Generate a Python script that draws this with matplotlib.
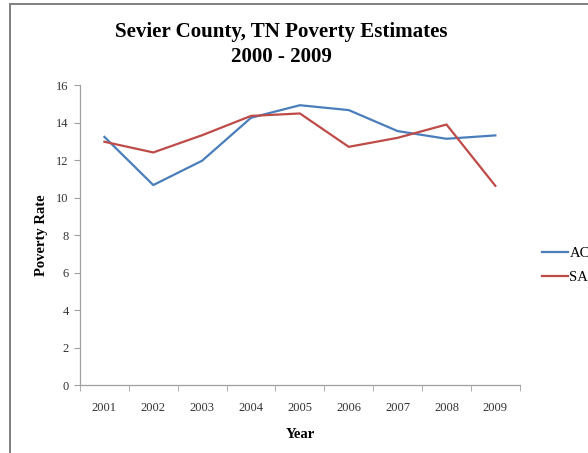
import matplotlib.pyplot as plt
import numpy as np
from matplotlib.lines import Line2D

plt.rcParams["font.family"] = ["Liberation Serif", "DejaVu Serif"]

years = [2001, 2002, 2003, 2004, 2005, 2006, 2007, 2008, 2009]
acs = [13.24, 10.67, 11.97, 14.26, 14.93, 14.67, 13.55, 13.14, 13.32]
saipe = [12.98, 12.41, 13.33, 14.36, 14.49, 12.71, 13.19, 13.90, 10.63]
y_ticks = [0, 2, 4, 6, 8, 10, 12, 14, 16]

fig = plt.figure(figsize=(5.88, 4.53), dpi=100)
ax = fig.add_axes([0.136, 0.150, 0.748, 0.662])

ax.plot(years, acs, color="#4a7ebb", linewidth=1.6, label="ACS")
ax.plot(years, saipe, color="#be4b48", linewidth=1.6, label="SAIPE")

ax.set_xlim(years[0] - 0.5, years[-1] + 0.5)
ax.set_ylim(0, 16)
ax.set_yticks(y_ticks)
ax.set_xticks(years)
ax.set_xticks(np.arange(years[0] - 0.5, years[-1] + 1, 1.0), minor=True)
ax.tick_params(axis="x", which="major", length=0, pad=12, labelsize=9, labelcolor="#333333")
ax.tick_params(axis="x", which="minor", length=4, color="#a0a0a0")
ax.tick_params(axis="y", length=4, color="#a0a0a0", labelsize=9, labelcolor="#333333", pad=4)

for side in ("top", "right"):
    ax.spines[side].set_visible(False)
for side in ("left", "bottom"):
    ax.spines[side].set_color("#a0a0a0")
    ax.spines[side].set_linewidth(0.9)

ax.set_xlabel("Year", fontsize=10.5, fontweight="bold", labelpad=10)
ax.set_ylabel("Poverty Rate", fontsize=10.5, fontweight="bold", labelpad=6)

fig.text(0.479, 0.902, "Sevier County, TN Poverty Estimates\n2000 - 2009",
         ha="center", va="center", fontsize=15.1, fontweight="bold",
         linespacing=1.3)

ax.legend(loc="center left", bbox_to_anchor=(1.02, 0.40), frameon=False,
          fontsize=10.5, handlelength=1.8, handletextpad=0.1, labelspacing=0.75)

# outer frame of the chart area
fig.add_artist(Line2D([0.017, 0.017], [0.0, 0.991], color="#808080", linewidth=1.4))
fig.add_artist(Line2D([0.017, 1.0], [0.991, 0.991], color="#808080", linewidth=1.4))

fig.savefig("out.png", dpi=100)
